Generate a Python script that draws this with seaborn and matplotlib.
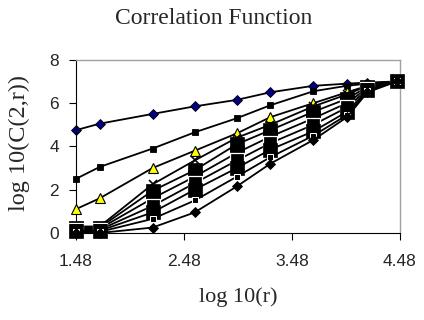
import matplotlib
matplotlib.use("Agg")
import matplotlib.pyplot as plt
import seaborn as sns
import pandas as pd

log_r = [1.48, 1.70, 2.19, 2.58, 2.97, 3.28, 3.68, 3.99, 4.18, 4.45]

s1 = [4.75, 5.05, 5.5, 5.85, 6.15, 6.5, 6.8, 6.9, 6.95, 7.0]
s2 = [2.5, 3.05, 3.9, 4.65, 5.3, 5.9, 6.55, 6.8, 6.9, 7.0]
s3 = [1.1, 1.6, 3.0, 3.8, 4.6, 5.35, 6.0, 6.5, 6.8, 7.0]
s4 = [0.3, 0.3, 2.25, 3.35, 4.4, 5.0, 5.85, 6.4, 6.8, 7.0]
s5 = [0.25, 0.25, 1.95, 2.9, 4.1, 4.75, 5.6, 6.2, 6.75, 7.0]
s6 = [0.2, 0.2, 1.6, 2.6, 3.7, 4.45, 5.3, 6.0, 6.7, 7.0]
s7 = [0.15, 0.15, 1.25, 2.3, 3.35, 4.15, 5.0, 5.8, 6.65, 7.0]
s8 = [0.1, 0.1, 0.95, 2.0, 3.0, 3.85, 4.7, 5.6, 6.6, 7.0]
s9 = [0.05, 0.05, 0.65, 1.5, 2.6, 3.5, 4.5, 5.45, 6.55, 7.0]
s10 = [0.0, 0.0, 0.25, 0.95, 2.15, 3.2, 4.3, 5.35, 6.5, 7.0]

series = [s1, s2, s3, s4, s5, s6, s7, s8, s9, s10]

x_ticks = [1.48, 2.48, 3.48, 4.48]
x_tick_labels = ["1.48", "2.48", "3.48", "4.48"]
y_ticks = [0, 2, 4, 6, 8]

big = dict(marker="s", markersize=9.5, markerfacecolor="black", markeredgecolor="black", markeredgewidth=0.5)
styles = [
    dict(marker="D", markersize=5.5, markerfacecolor="#000080", markeredgecolor="black", markeredgewidth=0.6),
    dict(marker="s", markersize=5, markerfacecolor="black", markeredgecolor="black", markeredgewidth=0.6),
    dict(marker="^", markersize=6.5, markerfacecolor="#ffff00", markeredgecolor="black", markeredgewidth=0.8),
    dict(marker="x", markersize=6, markerfacecolor="black", markeredgecolor="black", markeredgewidth=1.2),
    big,
    big,
    dict(marker="s", markersize=9.5, markerfacecolor="black", markeredgecolor="white", markeredgewidth=0.9),
    big,
    dict(marker="s", markersize=5, markerfacecolor="black", markeredgecolor="white", markeredgewidth=0.75),
    dict(marker="D", markersize=5, markerfacecolor="black", markeredgecolor="black", markeredgewidth=0.6),
]

sns.set_style("white")

fig = plt.figure(figsize=(4.24, 3.2), dpi=100)
ax = fig.add_axes([0.179, 0.272, 0.764, 0.541])

for i, (vals, st) in enumerate(zip(series, styles)):
    df = pd.DataFrame({"log_r": log_r, "logC": vals})
    sns.lineplot(data=df, x="log_r", y="logC", ax=ax, color="black",
                 linewidth=1.3, zorder=2 + i, clip_on=False, **st)

ax.set_xlim(1.48, 4.48)
ax.set_ylim(0, 8)
ax.set_xticks(x_ticks)
ax.set_xticklabels(x_tick_labels)
ax.set_yticks(y_ticks)

for lab in ax.get_xticklabels() + ax.get_yticklabels():
    lab.set_family(["Liberation Sans", "DejaVu Sans"])
    lab.set_fontsize(12.5)

ax.tick_params(axis="both", direction="out", length=5, width=0.8, color="black", bottom=True, left=True)
ax.tick_params(axis="x", pad=10)
ax.tick_params(axis="y", pad=7)

for side in ["left", "bottom"]:
    ax.spines[side].set_color("black")
    ax.spines[side].set_linewidth(0.8)
for side in ["top", "right"]:
    ax.spines[side].set_color("#a0a0a0")
    ax.spines[side].set_linewidth(1.0)

serif = ["Liberation Serif", "DejaVu Serif"]
ax.set_xlabel("")
ax.set_ylabel("")
fig.text(0.561, 1 - 297 / 320, "log 10(r)", ha="center", va="center", family=serif, fontsize=16)
fig.text(19 / 424, 1 - 143 / 320, "log 10(C(2,r))", ha="center", va="center",
         rotation=90, family=serif, fontsize=17.5)
fig.text(214 / 424, 1 - 18 / 320, "Correlation Function", ha="center", va="center",
         family=serif, fontsize=17)

fig.savefig("out.png", dpi=100, facecolor="white")
